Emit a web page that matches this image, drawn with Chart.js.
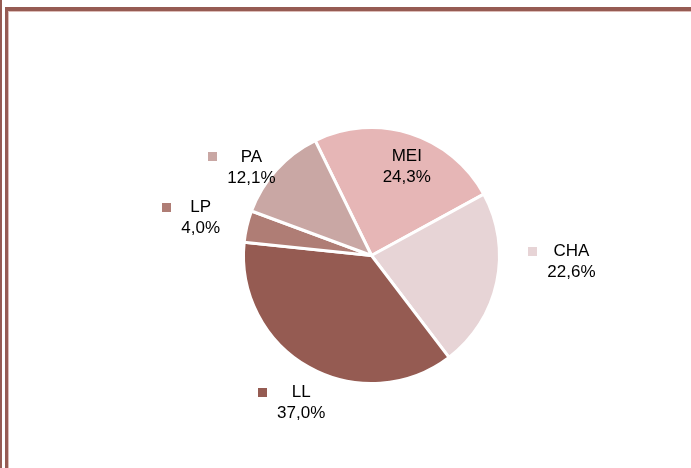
<!DOCTYPE html>
<html>
<head>
<meta charset="utf-8">
<script src="https://cdn.jsdelivr.net/npm/chart.js@4"></script>
<style>
  html, body { margin: 0; padding: 0; background: #fff; }
  #wrap { width: 691px; height: 468px; position: relative; }
</style>
</head>
<body>
<div id="wrap"><canvas id="pie" width="691" height="468"></canvas></div>
<script>
// slice data, in drawing order (clockwise from the MEI slice)
const categories = ['MEI', 'CHA', 'LL', 'LP', 'PA'];
const shares = [24.3, 22.6, 37.0, 4.0, 12.1];
const sliceColors = ['#E6B6B6', '#E7D4D6', '#955B52', '#AF7D75', '#C9A7A4'];

// where each label block sits: distance from centre and small angle nudge (deg)
const labelSpots = [[96, 3.9], [200, -10.3], [163, -3.8], [175, -0.6], [149, -5.8]];

const framePlugin = {
    id: 'frame',
    beforeDraw(chart) {
        const c = chart.ctx;
        c.save();
        c.fillStyle = '#965B53';
        c.fillRect(0, 0, 2, 468);
        c.fillRect(5, 7, 686, 4);
        c.fillRect(5, 7, 3, 461);
        c.fillStyle = '#DDBDB8';
        c.fillRect(8, 11, 683, 1);
        c.fillRect(8, 11, 1, 457);
        c.restore();
    }
};

const labelPlugin = {
    id: 'sliceLabels',
    afterDatasetsDraw(chart) {
        const c = chart.ctx;
        const arcs = chart.getDatasetMeta(0).data;
        c.save();
        c.font = '17px "Liberation Sans", Arial, sans-serif';
        c.fillStyle = '#000';
        c.textAlign = 'center';
        c.textBaseline = 'middle';
        arcs.forEach((arc, i) => {
            const [dist, nudge] = labelSpots[i];
            const a = (arc.startAngle + arc.endAngle) / 2 + nudge * Math.PI / 180;
            const x = arc.x + dist * Math.cos(a);
            const y = arc.y + dist * Math.sin(a);
            const pct = shares[i].toFixed(1).replace('.', ',') + '%';
            const w = c.measureText(pct).width;
            c.fillStyle = sliceColors[i];
            c.fillRect(Math.round(x - w / 2 - 19), Math.round(y - 15), 9, 9);
            c.fillStyle = '#000';
            c.fillText(categories[i], x, y - 10);
            c.fillText(pct, x, y + 11);
        });
        c.restore();
    }
};

new Chart(document.getElementById('pie'), {
    type: 'pie',
    data: { labels: categories, datasets: [{ data: shares, backgroundColor: sliceColors, borderColor: '#fff', borderWidth: 3 }] },
    options: {
        responsive: false, animation: false, rotation: -26.1,
        layout: { padding: { left: 242, right: 190, top: 126, bottom: 83 } },
        plugins: { legend: { display: false }, tooltip: { enabled: false } }
    },
    plugins: [framePlugin, labelPlugin]
});
</script>
</body>
</html>
